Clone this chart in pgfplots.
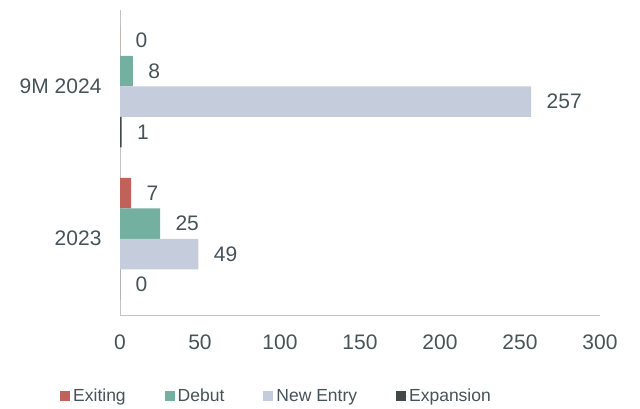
\documentclass[border=0pt]{standalone}
\usepackage{pgfplots}
\pgfplotsset{compat=1.18}
\usepackage{fontspec}
\setmainfont{Liberation Sans}
\definecolor{cExit}{HTML}{C0615A}
\definecolor{cDebut}{HTML}{74B09F}
\definecolor{cNew}{HTML}{C5CCDC}
\definecolor{cExp}{HTML}{43484B}
\definecolor{txt}{HTML}{465358}
\definecolor{axl}{HTML}{C4C4C4}
\begin{document}
\begin{tikzpicture}
\path (0,0) rectangle (640pt,408pt);
\begin{axis}[
  at={(120pt,93pt)}, anchor=south west,
  scale only axis, width=480pt, height=305pt,
  xbar, bar width=0.2,
  xmin=0, xmax=300, ymin=-0.5, ymax=1.5,
  xtick={0,50,...,300},
  ytick={0,1}, yticklabels={2023,9M 2024},
  axis x line=bottom, axis y line=left,
  axis line style={-, draw=axl, line width=1pt},
  major tick length=0pt,
  tick style={draw=none},
  ticklabel style={font=\fontsize{21}{25}\selectfont, text=txt},
  /pgf/number format/assume math mode=true,
  xticklabel style={yshift=-16pt},
  yticklabel style={xshift=-15pt},
  nodes near coords,
  nodes near coords style={font=\fontsize{21}{25}\selectfont, text=txt, anchor=west, xshift=12pt},
  every node near coord/.append style={/pgf/number format/assume math mode=true},
  legend columns=4,
  legend style={draw=none, at={(-0.125,-0.2656)}, anchor=west, inner sep=0pt,
    font=\fontsize{17.5}{20}\selectfont, text=txt,
    /tikz/every even column/.append style={column sep=37pt}},
  legend image code/.code={\fill[#1] (0pt,-5pt) rectangle (10pt,5pt); \path (0pt,0pt) -- (11pt,0pt);},
]
\addplot[fill=cExit, draw=none, bar shift=0.3] coordinates {(7,0) (0,1)};
\addlegendentry{Exiting}
\addplot[fill=cDebut, draw=none, bar shift=0.1] coordinates {(25,0) (8,1)};
\addlegendentry{Debut}
\addplot[fill=cNew, draw=none, bar shift=-0.1] coordinates {(49,0) (257,1)};
\addlegendentry{New Entry}
\addplot[fill=cExp, draw=none, bar shift=-0.3] coordinates {(0,0) (1,1)};
\addlegendentry{Expansion}
\end{axis}
\end{tikzpicture}
\end{document}
